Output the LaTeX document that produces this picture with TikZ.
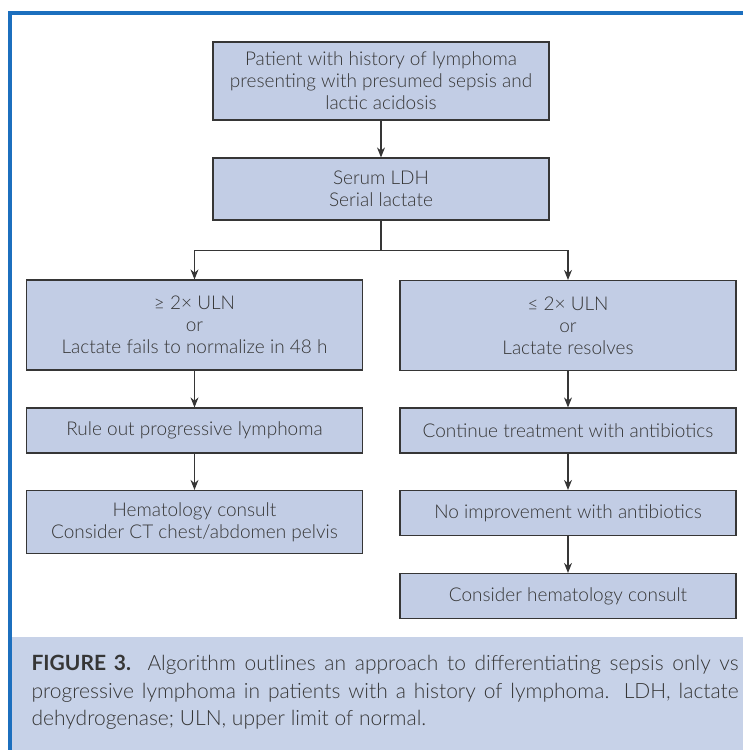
\documentclass[tikz,border=0pt]{standalone}
\usepackage{fontspec}
\setmainfont{Lato}[UprightFont=* Light, BoldFont=* Bold]
\usetikzlibrary{arrows.meta, positioning}
\definecolor{FrameBlue}{HTML}{1C6FBE}
\definecolor{BoxFill}{HTML}{C2CDE5}
\definecolor{CapFill}{HTML}{C7D2E8}
\definecolor{InkGray}{HTML}{363636}

\begin{document}
\begin{tikzpicture}[
    x=1pt, y=-1pt,  % one unit = one pixel of the page, y runs down
    stepbox/.style={draw=InkGray, line width=1.2pt, fill=BoxFill, text=InkGray,
        align=center, inner sep=0pt, minimum width=336pt,
        font=\fontsize{19}{22}\selectfont},
    flow/.style={-{Stealth[length=10pt, width=8pt]}, draw=InkGray, line width=1.1pt}
]
    \useasboundingbox (0,0) rectangle (743,750);

    % === FRAME ===
    \draw[FrameBlue, line width=4pt] (10,750) -- (10,13) -- (743,13);

    % === CAPTION ===
    \fill[CapFill] (12,637) rectangle (743,750);
    \node[anchor=north west, text width=707pt, align=justify, text=InkGray,
        font=\fontsize{21}{27.5}\selectfont] (caption) at (28,652)
        {\textbf{FIGURE 3.} Algorithm outlines an approach to differentiating sepsis only vs\linebreak
         progressive lymphoma in patients with a history of lymphoma. LDH, lactate\linebreak
         dehydrogenase; ULN, upper limit of normal.};

    % === MAIN COLUMN ===
    \node[stepbox, minimum height=78pt] (patient) at (381,81)
        {Patient with history of lymphoma\\presenting with presumed sepsis and\\lactic acidosis};
    \node[stepbox, minimum height=62pt] (serum) at (381,189)
        {Serum LDH\\Serial lactate};

    % === LEFT BRANCH ===
    \node[stepbox, minimum height=90pt] (high) at (194.5,325)
        {≥ 2× ULN\\or\\Lactate fails to normalize in 48 h};
    \node[stepbox, minimum height=45pt] (ruleout) at (194.5,430.5)
        {Rule out progressive lymphoma};
    \node[stepbox, minimum height=63pt] (hemcons) at (194.5,522)
        {Hematology consult\\Consider CT chest/abdomen pelvis};

    % === RIGHT BRANCH ===
    \node[stepbox, minimum height=90pt] (low) at (568,325.5)
        {≤ 2× ULN\\or\\Lactate resolves};
    \node[stepbox, minimum height=45pt] (antibio) at (568,430.5)
        {Continue treatment with antibiotics};
    \node[stepbox, minimum height=45pt] (noimpr) at (568,513)
        {No improvement with antibiotics};
    \node[stepbox, minimum height=45pt] (hemlater) at (568,596)
        {Consider hematology consult};

    % === CONNECTORS ===
    \draw[flow] (patient) -- (serum);
    \draw[line width=1.1pt, InkGray] (serum.south) -- ++(0,30) coordinate (split);
    \draw[flow] (split) -| (high.north);
    \draw[flow] (split) -| (low.north);
    \draw[flow] (high) -- (ruleout);
    \draw[flow] (ruleout) -- (hemcons);
    \draw[flow] (low) -- (antibio);
    \draw[flow] (antibio) -- (noimpr);
    \draw[flow] (noimpr) -- (hemlater);
\end{tikzpicture}
\end{document}
